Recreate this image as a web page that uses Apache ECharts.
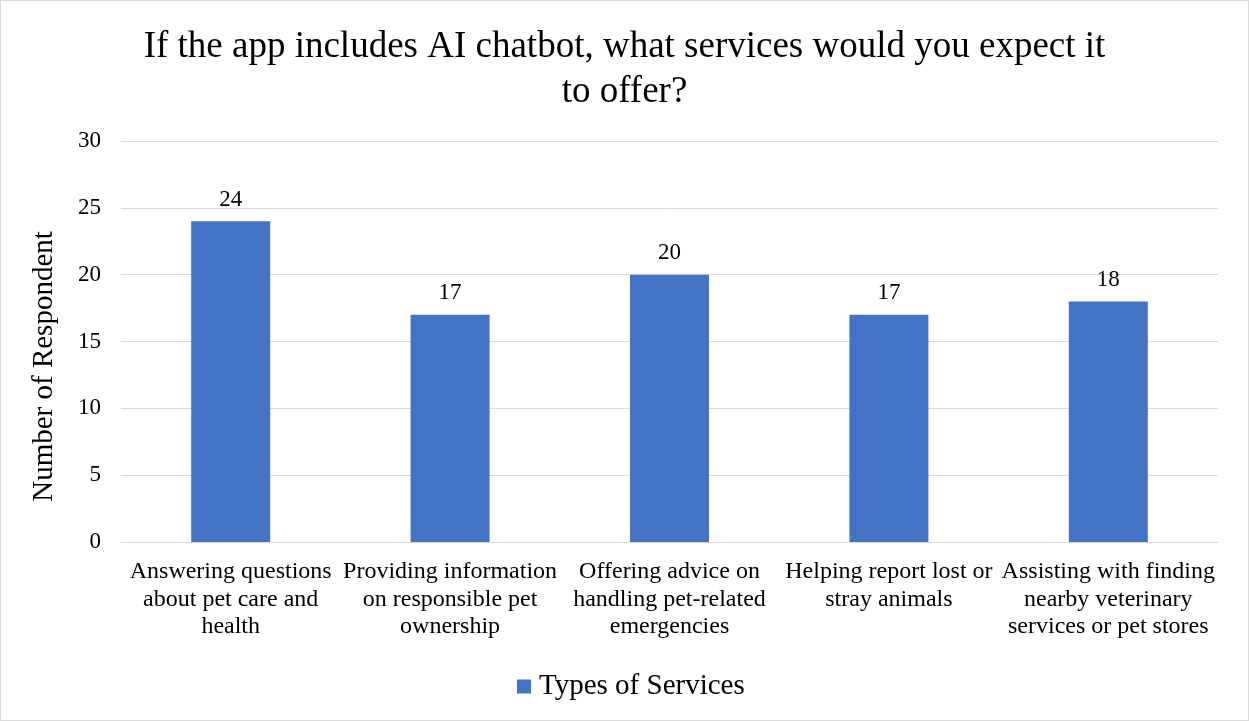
<!DOCTYPE html>
<html>
<head>
<meta charset="utf-8">
<script src="https://cdn.jsdelivr.net/npm/echarts@6/dist/echarts.min.js"></script>
<style>
  html, body { margin: 0; padding: 0; background: #fff; }
  #chart { width: 1249px; height: 721px; box-sizing: border-box; border: 1px solid #d9d9d9; }
</style>
</head>
<body>
<div id="chart"></div>
<script>
// Survey answers: expected AI chatbot services
const categories = [
  'Answering questions\nabout pet care and\nhealth',
  'Providing information\non responsible pet\nownership',
  'Offering advice on\nhandling pet-related\nemergencies',
  'Helping report lost or\nstray animals',
  'Assisting with finding\nnearby veterinary\nservices or pet stores'
];
const respondents = [24, 17, 20, 17, 18];
const seriesName = 'Types of Services';
const yTicks = [0, 5, 10, 15, 20, 25, 30];

const font = '"Liberation Serif", "Times New Roman", serif';
const chart = echarts.init(document.getElementById('chart'), null, { renderer: 'canvas' });

chart.setOption({
  animation: false,
  textStyle: { fontFamily: font, color: '#000' },
  title: {
    text: 'If the app includes AI chatbot, what services would you expect it\nto offer?',
    left: 'center',
    top: 19,
    textStyle: { fontFamily: font, fontSize: 37, fontWeight: 'normal', color: '#000', lineHeight: 45 }
  },
  legend: {
    bottom: 14,
    left: 511,
    itemWidth: 14,
    itemHeight: 14,
    itemGap: 8,
    icon: 'rect',
    textStyle: { fontFamily: font, fontSize: 29, color: '#000', padding: [0, 0, 0, 3] },
    data: [seriesName]
  },
  grid: { left: 120, right: 30, top: 140, bottom: 178 },
  xAxis: {
    type: 'category',
    data: categories,
    axisLine: { lineStyle: { color: '#d9d9d9', width: 1 } },
    axisTick: { show: false },
    axisLabel: {
      interval: 0,
      margin: 16,
      fontFamily: font,
      fontSize: 24,
      lineHeight: 27.5,
      color: '#000'
    }
  },
  yAxis: {
    type: 'value',
    min: yTicks[0],
    max: yTicks[yTicks.length - 1],
    interval: 5,
    name: 'Number of Respondent',
    nameLocation: 'middle',
    nameGap: 62,
    nameTextStyle: { fontFamily: font, fontSize: 29, color: '#000', padding: [0, 50, 0, 0] },
    axisLine: { show: false },
    axisTick: { show: false },
    axisLabel: { margin: 20, fontFamily: font, fontSize: 23, color: '#000' },
    splitLine: { lineStyle: { color: '#d9d9d9', width: 1 } }
  },
  series: [{
    name: seriesName,
    type: 'bar',
    data: respondents,
    barWidth: '36%',
    itemStyle: { color: '#4472C4' },
    label: {
      show: true,
      position: 'top',
      distance: 10,
      fontFamily: font,
      fontSize: 23,
      color: '#000'
    }
  }]
});
</script>
</body>
</html>
